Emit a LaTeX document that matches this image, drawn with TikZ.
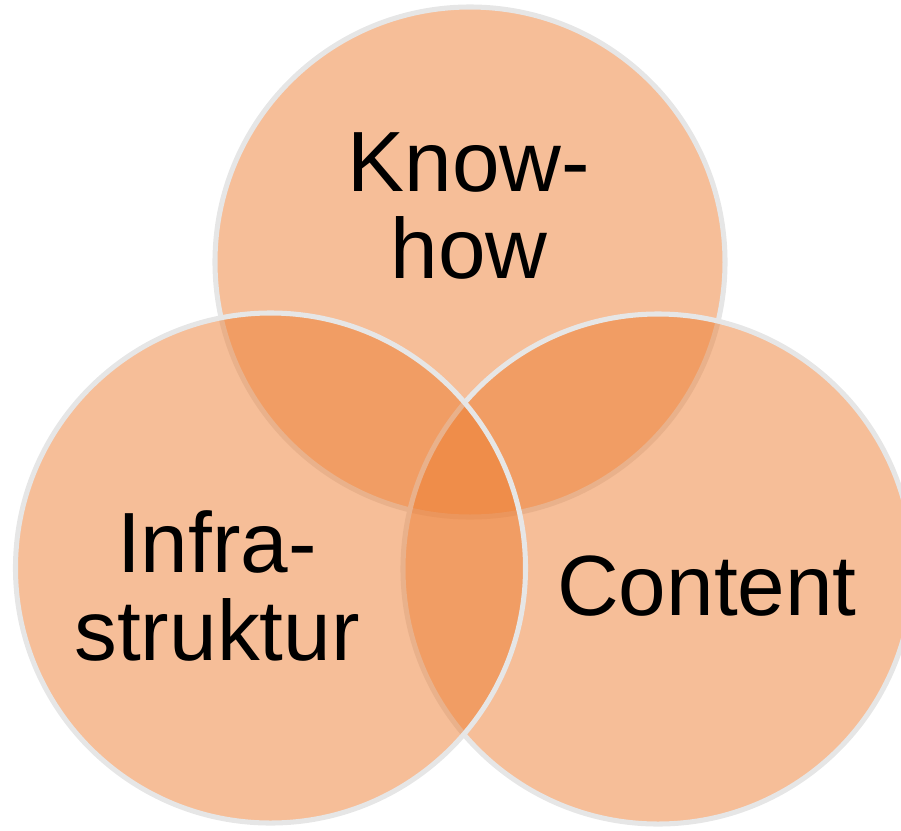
\documentclass[tikz,border=0pt]{standalone}
\usepackage{fontspec}
\setmainfont{Liberation Sans}
\usepackage{tikz}
\definecolor{vennfill}{RGB}{237,125,49}
\definecolor{vennline}{RGB}{230,230,230}
\tikzstyle{venn}=[circle, minimum size=15.3cm, inner sep=0pt, fill=vennfill, fill opacity=0.5, draw=vennline, draw opacity=1, line width=4.3pt]
\tikzstyle{label}=[inner sep=0pt, align=center, font=\fontsize{73}{75}\selectfont]

\begin{document}
\begin{tikzpicture}[x=0.03cm, y=-0.03cm]
            \useasboundingbox (0, 0) rectangle (901, 830);
            \node[venn] (knowhow) at (470, 262) {};
            \node[venn] (content) at (658, 569) {};
            \node[venn] (infra) at (270.5, 568) {};

            \node[label] (knowhowtext) at (469, 206) {Know-\\how};
            \node[label] (infratext) at (217, 586) {Infra-\\struktur};
            \node[label, anchor=base] (contenttext) at (707, 615) {Content};
        \end{tikzpicture}
\end{document}
